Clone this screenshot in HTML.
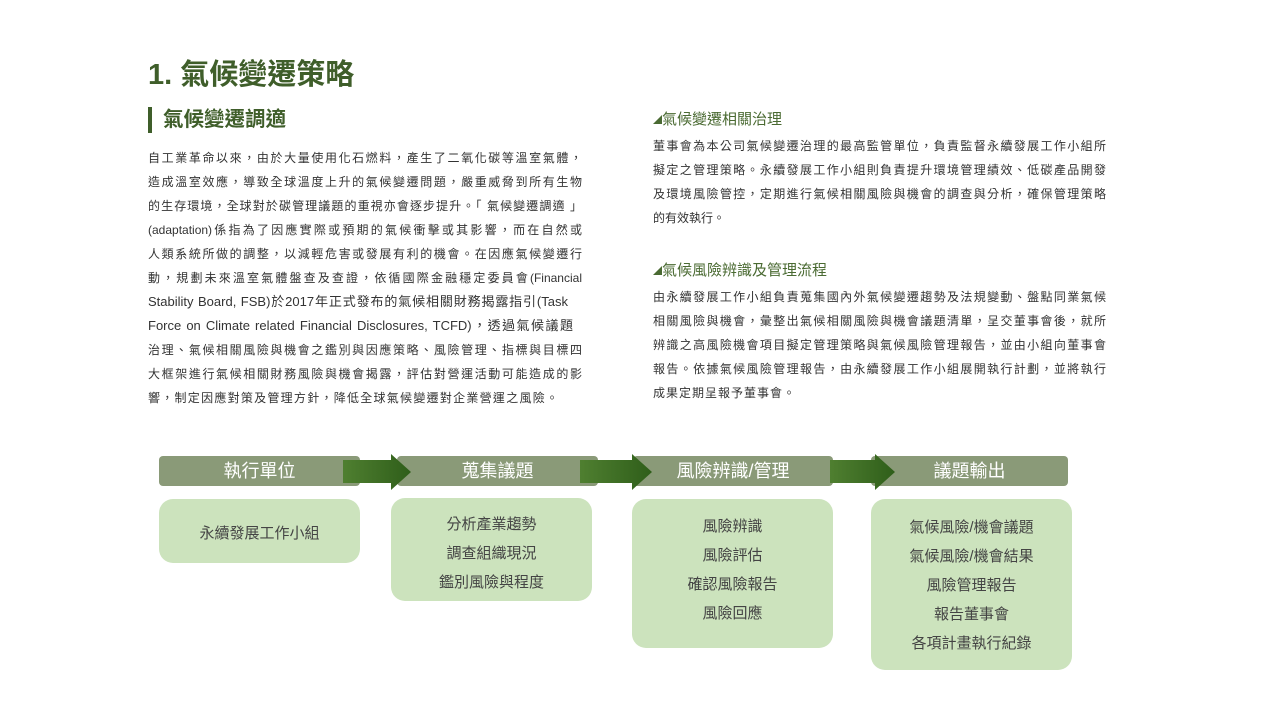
<!DOCTYPE html>
<html><head><meta charset="utf-8">
<style>
body{margin:0;width:1280px;height:720px;background:#fff;position:relative;overflow:hidden;font-family:"Liberation Sans","Noto Sans CJK TC",sans-serif;}
.a{position:absolute;}
h1{position:absolute;left:148px;top:55px;margin:0;font-size:29px;font-weight:bold;color:#3f5e2a;line-height:40px;}
.h2{left:148px;top:107px;font-size:20.5px;font-weight:bold;color:#3f5e2a;line-height:26px;padding-left:11px;border-left:4px solid #3f5e2a;}
.p{font-size:12px;color:#333;line-height:24px;}
.p span{display:block;white-space:nowrap;text-align:justify;text-align-last:justify;}
.p span.l{text-align-last:left;}
.p span.e{font-size:13px;}
.h3{font-size:15px;color:#4a6a32;line-height:20px;}
.h3 i{font-style:normal;font-size:9px;vertical-align:1px;}
.bar{position:absolute;top:456px;height:30px;background:#8a9a78;border-radius:4px;color:#fff;font-size:18px;line-height:30px;text-align:center;}
.box{position:absolute;background:#cce3bd;border-radius:14px;color:#444;font-size:15px;text-align:center;display:flex;flex-direction:column;justify-content:center;line-height:29px;}
</style></head><body>
<h1>1. 氣候變遷策略</h1>
<div class="a h2">氣候變遷調適</div>
<div class="a p" style="left:148px;top:146px;width:434px;">
<span>自工業革命以來，由於大量使用化石燃料，產生了二氧化碳等溫室氣體，</span>
<span>造成溫室效應，導致全球溫度上升的氣候變遷問題，嚴重威脅到所有生物</span>
<span>的生存環境，全球對於碳管理議題的重視亦會逐步提升。「 氣候變遷調適 」</span>
<span>(adaptation)係指為了因應實際或預期的氣候衝擊或其影響，而在自然或</span>
<span>人類系統所做的調整，以減輕危害或發展有利的機會。在因應氣候變遷行</span>
<span>動，規劃未來溫室氣體盤查及查證，依循國際金融穩定委員會(Financial</span>
<span class="e" style="width:420px">Stability Board, FSB)於2017年正式發布的氣候相關財務揭露指引(Task</span>
<span class="e" style="width:425px">Force on Climate related Financial Disclosures, TCFD)，透過氣候議題</span>
<span>治理、氣候相關風險與機會之鑑別與因應策略、風險管理、指標與目標四</span>
<span>大框架進行氣候相關財務風險與機會揭露，評估對營運活動可能造成的影</span>
<span style="width:410px">響，制定因應對策及管理方針，降低全球氣候變遷對企業營運之風險。</span>
</div>
<div class="a h3" style="left:653px;top:110px;"><i>◢</i>氣候變遷相關治理</div>
<div class="a p" style="left:653px;top:134px;width:453px;">
<span>董事會為本公司氣候變遷治理的最高監管單位，負責監督永續發展工作小組所</span>
<span>擬定之管理策略。永續發展工作小組則負責提升環境管理績效、低碳產品開發</span>
<span>及環境風險管控，定期進行氣候相關風險與機會的調查與分析，確保管理策略</span>
<span style="width:72px">的有效執行。</span>
</div>
<div class="a h3" style="left:653px;top:261px;"><i>◢</i>氣候風險辨識及管理流程</div>
<div class="a p" style="left:653px;top:285px;width:453px;">
<span>由永續發展工作小組負責蒐集國內外氣候變遷趨勢及法規變動、盤點同業氣候</span>
<span>相關風險與機會，彙整出氣候相關風險與機會議題清單，呈交董事會後，就所</span>
<span>辨識之高風險機會項目擬定管理策略與氣候風險管理報告，並由小組向董事會</span>
<span>報告。依據氣候風險管理報告，由永續發展工作小組展開執行計劃，並將執行</span>
<span style="width:142px">成果定期呈報予董事會。</span>
</div>

<div class="bar" style="left:159px;width:201px;">執行單位</div>
<div class="bar" style="left:397px;width:201px;">蒐集議題</div>
<div class="bar" style="left:633px;width:200px;">風險辨識/管理</div>
<div class="bar" style="left:871px;width:197px;">議題輸出</div>

<svg class="a" style="left:0;top:0" width="1280" height="720">
<defs><linearGradient id="g" x1="0" x2="1"><stop offset="0" stop-color="#4f7f30"/><stop offset="1" stop-color="#2f5e1a"/></linearGradient></defs>
<g fill="url(#g)">
<path d="M343 460H391V454L411 472L391 490V483H343Z"/>
<path d="M580 460H632V454L652 472L632 490V483H580Z"/>
<path d="M830 460H875V454L895 472L875 490V483H830Z"/>
</g>
</svg>

<div class="box" style="left:159px;top:499px;width:201px;height:64px;padding-top:4px;box-sizing:border-box;">永續發展工作小組</div>
<div class="box" style="left:391px;top:498px;width:201px;height:103px;padding-top:8px;box-sizing:border-box;"><div>分析產業趨勢</div><div>調查組織現況</div><div>鑑別風險與程度</div></div>
<div class="box" style="left:632px;top:499px;width:201px;height:149px;padding-bottom:8px;box-sizing:border-box;"><div>風險辨識</div><div>風險評估</div><div>確認風險報告</div><div>風險回應</div></div>
<div class="box" style="left:871px;top:499px;width:201px;height:171px;padding-top:2px;box-sizing:border-box;"><div>氣候風險/機會議題</div><div>氣候風險/機會結果</div><div>風險管理報告</div><div>報告董事會</div><div>各項計畫執行紀錄</div></div>
</body></html>
